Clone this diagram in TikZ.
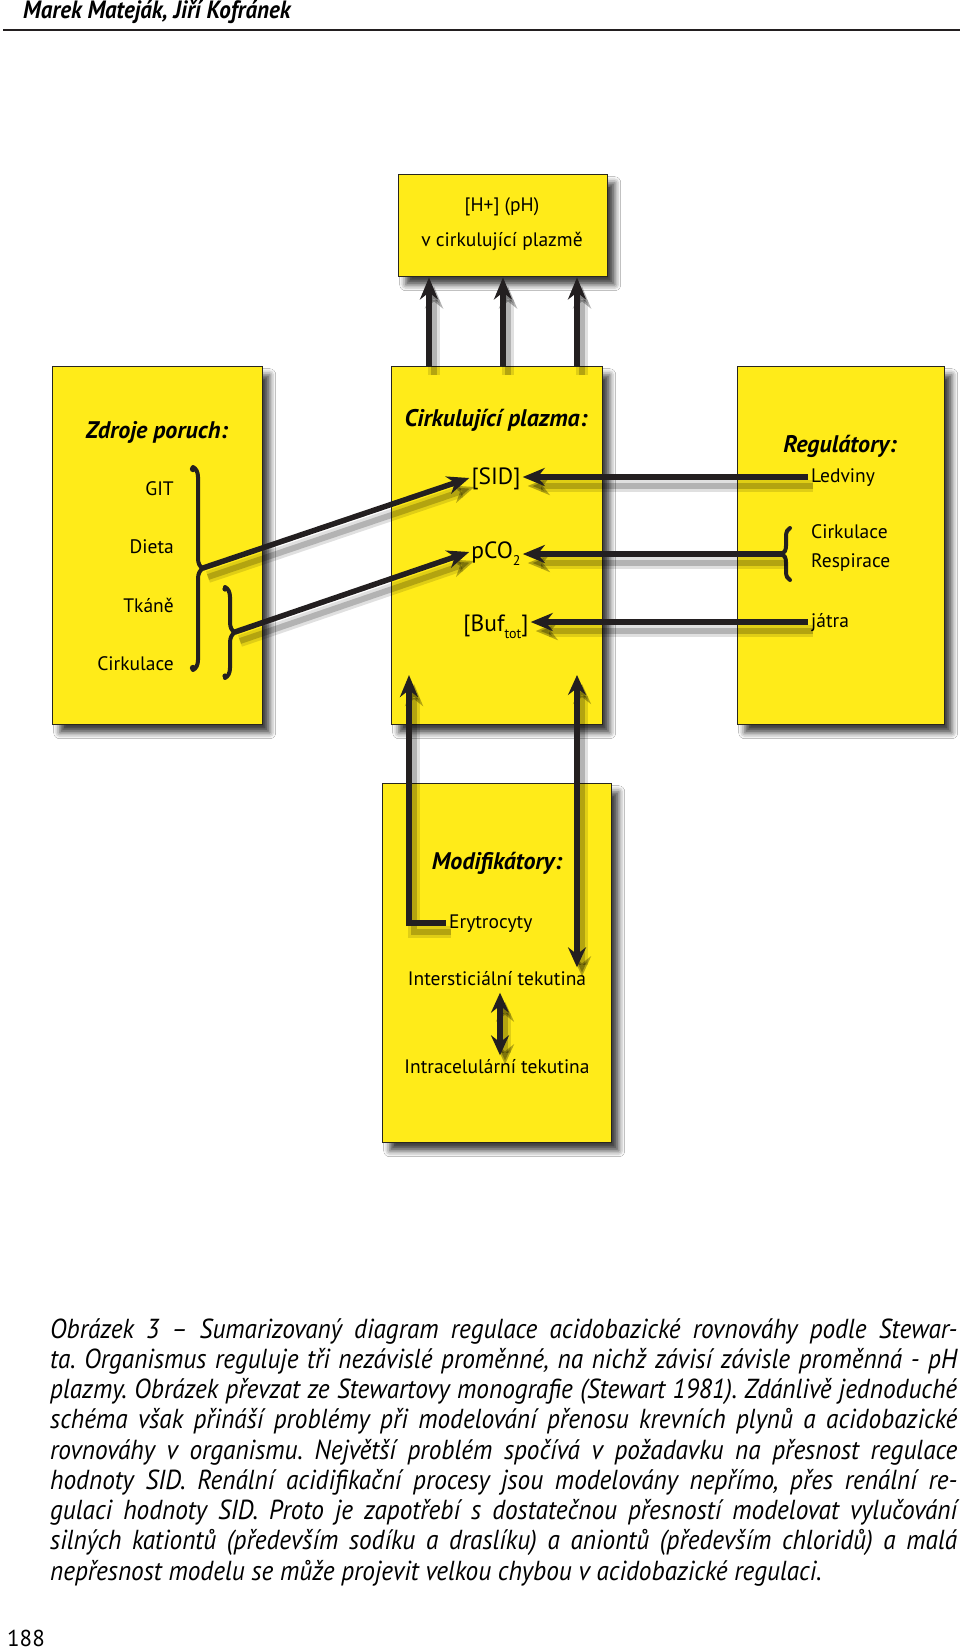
\documentclass[tikz,border=0pt]{standalone}
\usepackage{fontspec}
\setmainfont{PT Sans}
\newfontfamily\capfont[FakeStretch=0.92]{PT Sans}
\usepackage{tikz}
\usetikzlibrary{arrows.meta}
\usetikzlibrary{decorations.pathreplacing}
\usetikzlibrary{shadows.blur}

\definecolor{boxfill}{RGB}{255,235,25}
\definecolor{boxline}{RGB}{40,38,30}
\definecolor{ink}{RGB}{35,31,32}

\newcommand{\lowidx}[1]{\raisebox{-7pt}{\fontsize{14}{14}\selectfont #1}}

% lines of words: words measured, then set one by one
\makeatletter
\newcount\cap@n
\newcount\cap@k
\newdimen\cap@sum
\newdimen\cap@gap
\newdimen\cap@x
\newdimen\capwidth \capwidth=907pt
\def\cap@split#1 #2\@nil{%
  \advance\cap@n\@ne
  \expandafter\def\csname cap@w@\the\cap@n\endcsname{#1}%
  \setbox\z@\hbox{#1}%
  \expandafter\edef\csname cap@d@\the\cap@n\endcsname{\the\wd\z@}%
  \advance\cap@sum\wd\z@
  \ifx\relax#2\relax\else\cap@split#2\@nil\fi}
\def\cap@emit{%
  \cap@x\z@ \cap@k\z@
  \loop\advance\cap@k\@ne
    \expandafter\edef\csname cap@p@\the\cap@k\endcsname{\the\cap@x}%
    \advance\cap@x\csname cap@d@\the\cap@k\endcsname\relax
    \advance\cap@x\cap@gap
  \ifnum\cap@k<\cap@n\repeat
  \hbox to\dimexpr\cap@x-\cap@gap\relax{\cap@k\cap@n
    \loop\rlap{\kern\csname cap@p@\the\cap@k\endcsname\relax\csname cap@w@\the\cap@k\endcsname}%
      \advance\cap@k\m@ne
    \ifnum\cap@k>\z@\repeat\hfil}}
\newcommand\capline[1]{\cap@n\z@\cap@sum\z@\cap@split#1 \@nil
  \cap@gap\dimexpr(\capwidth-\cap@sum)/\numexpr\cap@n-1\relax\relax\cap@emit}
\newcommand\wordline[1]{\cap@n\z@\cap@sum\z@\cap@split#1 \@nil
  \cap@gap\fontdimen2\font\cap@emit}
\makeatother

\tikzset{
  panel/.style={draw=boxline, line width=1.4pt, fill=boxfill, anchor=north west, inner sep=0pt,
    blur shadow={shadow xshift=7pt, shadow yshift=-8pt, shadow blur radius=6pt, shadow opacity=75}},
  head/.style={font=\fontsize{24}{28}\selectfont\bfseries\itshape, inner sep=2pt},
  lbl/.style={font=\fontsize{19.5}{23}\selectfont, inner sep=3pt, text height=15pt, text depth=4pt},
  qty/.style={font=\fontsize{23.5}{27}\selectfont, inner sep=2pt, text height=17pt, text depth=5pt},
  shade line/.style={preaction={draw=black, opacity=.12, line width=12pt, transform canvas={shift={(5pt,-9pt)}}},
    preaction={draw=black, opacity=.20, line width=6pt, transform canvas={shift={(5pt,-9pt)}}}},
  flow/.style={draw=ink, line width=5.5pt, shade line, -{Stealth[length=22pt,width=18pt,inset=7pt]}},
  flow2/.style={draw=ink, line width=5.5pt, shade line,
    {Stealth[length=20pt,width=18pt,inset=7pt]}-{Stealth[length=20pt,width=18pt,inset=7pt]}},
  curly/.style={draw=ink, line width=4pt, line cap=round, decorate, decoration={brace, amplitude=#1}}
}

\begin{document}
\begin{tikzpicture}[x=1pt, y=-1pt]
  \useasboundingbox[fill=white] (0,0) rectangle (960,1650);

  \node[anchor=base west, inner sep=0pt, font=\capfont\fontsize{25}{29}\selectfont\bfseries\itshape] (authors) at (23,18) {\wordline{Marek Mateják, Jiří Kofránek}};
  \coordinate (ruleL) at (3,30);
  \coordinate (ruleR) at (960,30);
  \draw[draw=ink, line width=2.4pt] (ruleL) -- (ruleR);

  \node[panel, minimum width=209pt, minimum height=102pt] (hplus) at (398,174) {};
  \node[panel, minimum width=210pt, minimum height=358pt] (sources) at (52,366) {};
  \node[panel, minimum width=211pt, minimum height=358pt] (plasma) at (391,366) {};
  \node[panel, minimum width=207pt, minimum height=358pt] (regul) at (737,366) {};
  \node[panel, minimum width=229pt, minimum height=359pt] (modif) at (382,783) {};

  \node[lbl] (phtop) at (502,206) {\wordline{[H+] (pH)}};
  \node[lbl] (phbot) at (502,241) {\wordline{v cirkulující plazmě}};

  \node[head] (srchead) at (157,432) {\wordline{Zdroje poruch:}};
  \node[lbl, anchor=east] (git) at (177,490) {GIT};
  \node[lbl, anchor=east] (dieta) at (177,548) {Dieta};
  \node[lbl, anchor=east] (tkane) at (177,607) {Tkáně};
  \node[lbl, anchor=east] (cirkA) at (177,665) {Cirkulace};
  \draw[curly=10pt] (193,467) -- (193,670);
  \draw[curly=10pt] (225,587) -- (225,678);
  \fill[ink] (193,469) circle (3.2pt) (193,668) circle (3.2pt) (225,589) circle (2.6pt) (225,676) circle (2.6pt);
  \coordinate (bigtip) at (203,568);
  \coordinate (smalltip) at (235,632);

  \node[head] (plhead) at (496,420) {\wordline{Cirkulující plazma:}};
  \node[qty] (sid) at (496,478) {[SID]};
  \node[qty] (pco) at (496,552) {pCO\lowidx{2}};
  \node[qty] (buf) at (496,625) {[Buf\lowidx{tot}]};

  \node[head] (reghead) at (840,446) {Regulátory:};
  \node[lbl, anchor=west] (ledviny) at (808,477) {Ledviny};
  \node[lbl, anchor=west] (cirkB) at (808,533) {Cirkulace};
  \node[lbl, anchor=west] (resp) at (808,562) {Respirace};
  \node[lbl, anchor=west] (jatra) at (808,622) {játra};
  \draw[curly=8pt] (790,580) -- (790,528);
  \coordinate (resptip) at (782,554);

  \node[head] (modhead) at (497,863) {Modifikátory:};
  \node[lbl, anchor=west] (ery) at (446,923) {Erytrocyty};
  \node[lbl] (inter) at (497,980) {\wordline{Intersticiální tekutina}};
  \node[lbl] (intra) at (497,1068) {\wordline{Intracelulární tekutina}};

  \draw[flow] (bigtip) -- (sid.west);
  \draw[flow] (smalltip) -- (pco.west);
  \draw[flow] (ledviny.west) -- (sid.east |- ledviny.west);
  \draw[flow] (resptip) -- (pco.east |- resptip);
  \draw[flow] (jatra.west) -- (buf.east |- jatra.west);

  \foreach \x [count=\i] in {429,503,577} {
    \coordinate (up\i) at (\x,0);
    \draw[flow] (plasma.north -| up\i) -- (hplus.south -| up\i);
  }

  \coordinate (eryup) at (409,675);
  \coordinate (intdown) at (577,675);
  \coordinate (exch) at (500,0);
  \draw[flow] (ery.west) -| (eryup);
  \draw[flow2] (intdown) -- (inter.north -| intdown);
  \draw[flow2] (inter.south -| exch) -- (intra.north -| exch);

  \node[anchor=north west, inner sep=0pt, align=left,
    font=\capfont\itshape\fontsize{27.5}{30.25}\selectfont] (caption) at (50,1314)
    {\rule{0pt}{24pt}\capline{Obrázek 3 – Sumarizovaný diagram regulace acidobazické rovnováhy podle Stewar-}\\
     \capline{ta. Organismus reguluje tři nezávislé proměnné, na nichž závisí závisle proměnná - pH}\\
     \capline{plazmy. Obrázek převzat ze Stewartovy monografie (Stewart 1981). Zdánlivě jednoduché}\\
     \capline{schéma však přináší problémy při modelování přenosu krevních plynů a acidobazické}\\
     \capline{rovnováhy v organismu. Největší problém spočívá v požadavku na přesnost regulace}\\
     \capline{hodnoty SID. Renální acidifikační procesy jsou modelovány nepřímo, přes renální re-}\\
     \capline{gulaci hodnoty SID. Proto je zapotřebí s dostatečnou přesností modelovat vylučování}\\
     \capline{silných kationtů (především sodíku a draslíku) a aniontů (především chloridů) a malá}\\
     \wordline{nepřesnost modelu se může projevit velkou chybou v acidobazické regulaci.}};

  \node[anchor=west, inner sep=0pt, font=\fontsize{23}{26}\selectfont] (pageno) at (7,1638) {188};
\end{tikzpicture}
\end{document}
